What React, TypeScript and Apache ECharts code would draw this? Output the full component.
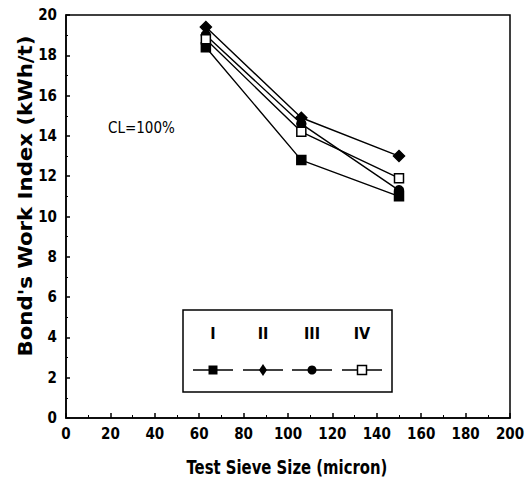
import React, { useEffect, useRef } from "react";
import * as echarts from "echarts";

const sieveSizes = [63, 106, 150];
const seriesNames = ["I", "II", "III", "IV"];
const seriesI = [18.4, 12.8, 11.0];
const seriesII = [19.4, 14.9, 13.0];
const seriesIII = [19.0, 14.6, 11.3];
const seriesIV = [18.8, 14.2, 11.9];
const xTicks = [0, 20, 40, 60, 80, 100, 120, 140, 160, 180, 200];
const yTicks = [0, 2, 4, 6, 8, 10, 12, 14, 16, 18, 20];
const yTitle = "Bond's Work Index (kWh/t)";
const xTitle = "Test Sieve Size (micron)";
const note = "CL=100%";

const FONT = "'DejaVu Sans Condensed', 'Liberation Sans Narrow', 'DejaVu Sans', sans-serif";

export default function App() {
  const ref = useRef<HTMLDivElement>(null);
  useEffect(() => {
    if (!ref.current) return;
    const chart = echarts.init(ref.current, null, { renderer: "svg" });
    const mk = (name: string, vals: number[], symbol: string, filled: boolean) => ({
      name,
      type: "line",
      data: sieveSizes.map((x, i) => [x, vals[i]]),
      symbol,
      symbolSize: symbol === "diamond" ? 11 : 9,
      showSymbol: true,
      lineStyle: { color: "#000", width: 1.4 },
      itemStyle: { color: filled ? "#000" : "#fff", borderColor: "#000", borderWidth: 1.5 },
      z: 3,
    });
    const legendX = [213, 263, 312, 362];
    const g: any[] = [
      { type: "rect", shape: { x: 183, y: 310, width: 209, height: 82 }, style: { fill: "#fff", stroke: "#000", lineWidth: 1.5 }, z: 10 },
    ];
    legendX.forEach((cx, i) => {
      g.push({
        type: "text",
        x: cx,
        y: 333,
        style: { text: seriesNames[i], font: `bold 16px ${FONT}`, fill: "#000", align: "center", verticalAlign: "middle" },
        z: 11,
      });
      g.push({
        type: "line",
        shape: { x1: cx - 20, y1: 370, x2: cx + 20, y2: 370 },
        style: { stroke: "#000", lineWidth: 1.5 },
        z: 11,
      });
    });
    g.push({ type: "rect", shape: { x: legendX[0] - 4.5, y: 365.5, width: 9, height: 9 }, style: { fill: "#000" }, z: 12 });
    g.push({ type: "polygon", shape: { points: [[legendX[1], 364], [legendX[1] + 4, 370], [legendX[1], 376], [legendX[1] - 4, 370]] }, style: { fill: "#000" }, z: 12 });
    g.push({ type: "circle", shape: { cx: legendX[2], cy: 370, r: 4.5 }, style: { fill: "#000" }, z: 12 });
    g.push({ type: "rect", shape: { x: legendX[3] - 4.5, y: 365.5, width: 9, height: 9 }, style: { fill: "#fff", stroke: "#000", lineWidth: 1.5 }, z: 12 });
    g.push({
      type: "text",
      x: 108,
      y: 128,
      style: { text: note, font: `15px ${FONT}`, fill: "#000", verticalAlign: "middle" },
      z: 11,
    });
    g.push({
      type: "text",
      x: 25,
      y: 196,
      rotation: Math.PI / 2,
      scaleX: 1.12,
      style: { text: yTitle, font: "bold 19px 'DejaVu Sans', Arial, sans-serif", fill: "#000", align: "center", verticalAlign: "middle" },
      z: 11,
    });
    g.push({
      type: "text",
      x: 287,
      y: 467,
      scaleX: 0.87,
      style: { text: xTitle, font: `bold 19px ${FONT}`, fill: "#000", align: "center", verticalAlign: "middle" },
      z: 11,
    });

    chart.setOption({
      animation: false,
      backgroundColor: "#fff",
      grid: { left: 66, right: 18, top: 15, bottom: 72, show: true, borderColor: "#000", borderWidth: 1.5 },
      xAxis: {
        type: "value",
        min: 0,
        max: 200,
        interval: 20,
        axisLine: { lineStyle: { color: "#000", width: 1.5 } },
        axisTick: { inside: true, length: 5, lineStyle: { color: "#000", width: 1.5 } },
        minorTick: { show: true, splitNumber: 2, length: 3, lineStyle: { color: "#000" } },
        axisLabel: { color: "#000", fontFamily: FONT, fontWeight: "bold", fontSize: 15, margin: 8, formatter: (v: number) => (xTicks.includes(v) ? String(v) : "") },
        splitLine: { show: false },
      },
      yAxis: {
        type: "value",
        min: 0,
        max: 20,
        interval: 2,
        axisLine: { lineStyle: { color: "#000", width: 1.5 } },
        axisTick: { inside: true, length: 4, lineStyle: { color: "#000", width: 1.5 } },
        minorTick: { show: true, splitNumber: 2, length: 2, lineStyle: { color: "#000" } },
        axisLabel: { color: "#000", fontFamily: FONT, fontWeight: "bold", fontSize: 15, margin: 9, formatter: (v: number) => (yTicks.includes(v) ? String(v) : "") },
        splitLine: { show: false },
      },
      series: [
        mk(seriesNames[0], seriesI, "rect", true),
        mk(seriesNames[1], seriesII, "diamond", true),
        mk(seriesNames[2], seriesIII, "circle", true),
        mk(seriesNames[3], seriesIV, "rect", false),
      ],
      graphic: g,
    });
    return () => chart.dispose();
  }, []);
  return <div ref={ref} style={{ position: "fixed", left: 0, top: 0, width: 528, height: 490 }} />;
}
